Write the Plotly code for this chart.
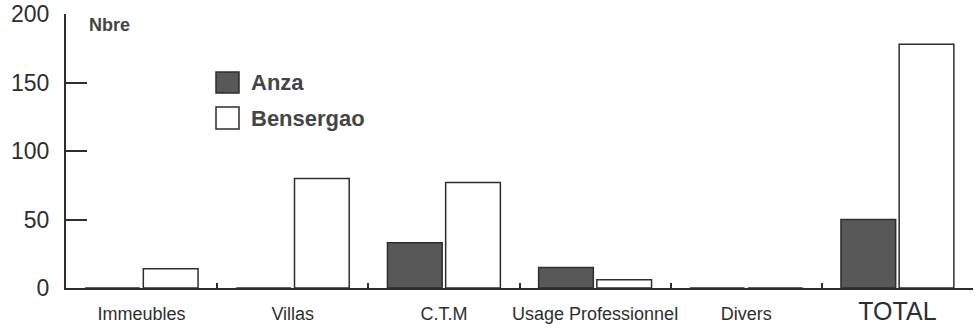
import plotly.graph_objects as go

categories = ["Immeubles", "Villas", "C.T.M", "Usage Professionnel", "Divers", "TOTAL"]
tick_labels = ["Immeubles", "Villas", "C.T.M", "Usage Professionnel", "Divers",
               "<span style='font-size:25px'>TOTAL</span>"]
anza = [0, 0, 33, 15, 0, 50]
bensergao = [14, 80, 77, 6, 0, 178]
y_ticks = [0, 50, 100, 150, 200]

W, H = 975, 328
ML, MR, MT, MB = 66, 2, 14, 40
PW, PH = W - ML - MR, H - MT - MB


def px(x):
    """page x pixel -> paper coordinate"""
    return (x - ML) / PW


def py(y):
    """page y pixel -> paper coordinate"""
    return (H - MB - y) / PH


INK = "#2e2e2e"
DARK_FILL = "#585858"
TXT = "#454545"
FONT = "Liberation Sans, Arial, sans-serif"

fig = go.Figure()
fig.add_trace(go.Bar(name="Anza", x=categories, y=anza,
                     marker=dict(color=DARK_FILL, line=dict(color=INK, width=1.5))))
fig.add_trace(go.Bar(name="Bensergao", x=categories, y=bensergao,
                     marker=dict(color="white", line=dict(color=INK, width=1.5))))

shapes = []
annotations = []
# legend drawn manually (large squares)
legend_items = [("Anza", DARK_FILL, 72, 93), ("Bensergao", "white", 107, 129)]
for name, col, y0, y1 in legend_items:
    shapes.append(dict(type="rect", xref="paper", yref="paper",
                       x0=px(216), x1=px(239), y0=py(y1), y1=py(y0),
                       fillcolor=col, line=dict(color=INK, width=1.5)))
    annotations.append(dict(text=f"<b>{name}</b>", xref="paper", yref="paper",
                            x=px(249), y=py((y0 + y1) / 2), xanchor="left", yanchor="middle",
                            showarrow=False, font=dict(size=22, color=TXT, family=FONT)))

annotations.append(dict(text="<b>Nbre</b>", xref="paper", yref="paper",
                        x=px(87), y=py(25), xanchor="left", yanchor="middle",
                        showarrow=False, font=dict(size=18, color=TXT, family=FONT)))

fig.update_layout(
    width=W, height=H,
    margin=dict(l=ML, r=MR, t=MT, b=MB),
    paper_bgcolor="white", plot_bgcolor="white",
    barmode="group", bargap=0.23, bargroupgap=0.06,
    showlegend=False,
    font=dict(family=FONT, color=INK),
    shapes=shapes, annotations=annotations,
    xaxis=dict(type="category", range=[-0.5, 5.5],
               tickvals=categories, ticktext=tick_labels, tickangle=0, automargin=False,
               showline=True, linecolor=INK, linewidth=2,
               ticks="inside", tickson="boundaries", ticklen=5, tickcolor=INK, tickwidth=1.5,
               showgrid=False, tickfont=dict(size=18, color=INK, family=FONT),
               ticklabelstandoff=8, ticklabeloverflow="allow"),
    yaxis=dict(range=[0, 200], tickvals=y_ticks, automargin=False,
               showline=True, linecolor=INK, linewidth=2,
               ticks="inside", ticklen=21, tickcolor=INK, tickwidth=2,
               showgrid=False, zeroline=False,
               tickfont=dict(size=23, color=INK, family=FONT),
               ticklabelstandoff=10, ticklabeloverflow="allow"),
)

fig.write_html("out.html", config={"displayModeBar": False},
               post_script="document.body.style.margin='0';document.body.style.overflow='hidden';")
